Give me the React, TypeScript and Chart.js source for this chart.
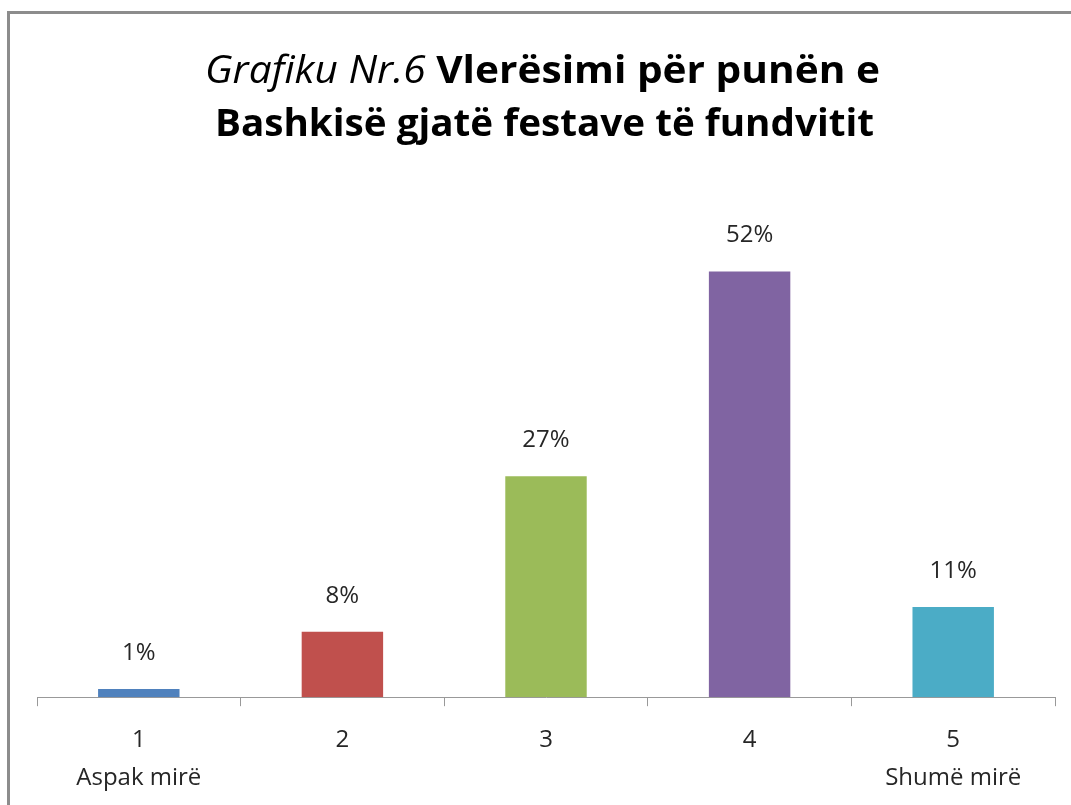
import React, { useEffect, useRef } from "react";
import { Chart, registerables } from "chart.js";

Chart.register(...registerables);

const categories: string[][] = [["1", "Aspak mirë"], ["2"], ["3"], ["4"], ["5", "Shumë mirë"]];
const values: number[] = [1, 8, 27, 52, 11];
const barColors: string[] = ["#4F81BD", "#C0504D", "#9BBB59", "#8064A2", "#4BACC6"];
const titleItalic = "Grafiku Nr.6";
const titleLine1Bold = "Vlerësimi për punën e";
const titleLine2 = "Bashkisë gjatë festave të fundvitit";
const yMax = 60;

const FONT = "'Open Sans', 'DejaVu Sans', sans-serif";

const framePlugin = {
  id: "frame",
  beforeDraw(chart: any) {
    const ctx = chart.ctx as CanvasRenderingContext2D;
    ctx.save();
    ctx.fillStyle = "#ffffff";
    ctx.fillRect(0, 0, chart.width, chart.height);
    ctx.strokeStyle = "#8c8c8c";
    ctx.lineWidth = 3;
    ctx.strokeRect(8.5, 12.5, chart.width + 20, chart.height + 20);
    ctx.restore();
  },
};

const titlePlugin = {
  id: "mixedTitle",
  afterDraw(chart: any) {
    const ctx = chart.ctx as CanvasRenderingContext2D;
    const size = 38;
    const italicFont = `italic 400 ${size}px ${FONT}`;
    const boldFont = `700 ${size}px ${FONT}`;
    ctx.save();
    ctx.fillStyle = "#000000";
    ctx.textBaseline = "alphabetic";
    ctx.textAlign = "left";
    // line 1
    ctx.font = italicFont;
    const wI = ctx.measureText(titleItalic + " ").width;
    ctx.font = boldFont;
    const wB = ctx.measureText(titleLine1Bold).width;
    const s1 = 675 / (wI + wB);
    ctx.save();
    ctx.translate(542.5 - ((wI + wB) * s1) / 2, 83);
    ctx.scale(s1, 1);
    ctx.font = italicFont;
    ctx.fillText(titleItalic + " ", 0, 0);
    ctx.font = boldFont;
    ctx.fillText(titleLine1Bold, wI, 0);
    ctx.restore();
    // line 2
    ctx.font = boldFont;
    const w2 = ctx.measureText(titleLine2).width;
    const s2 = 659 / w2;
    ctx.save();
    ctx.translate(544.5 - (w2 * s2) / 2, 136);
    ctx.scale(s2, 1);
    ctx.fillText(titleLine2, 0, 0);
    ctx.restore();
    ctx.restore();
  },
};

const labelPlugin = {
  id: "barLabels",
  afterDatasetsDraw(chart: any) {
    const ctx = chart.ctx as CanvasRenderingContext2D;
    const meta = chart.getDatasetMeta(0);
    ctx.save();
    ctx.font = `400 24px ${FONT}`;
    ctx.fillStyle = "#262626";
    ctx.textAlign = "center";
    ctx.textBaseline = "middle";
    meta.data.forEach((bar: any, i: number) => {
      ctx.fillText(`${values[i]}%`, bar.x, bar.y - 36);
    });
    ctx.restore();
  },
};

export default function App() {
  const ref = useRef<HTMLCanvasElement | null>(null);
  useEffect(() => {
    if (!ref.current) return;
    const chart = new Chart(ref.current, {
      type: "bar",
      data: {
        labels: categories,
        datasets: [
          {
            data: values,
            backgroundColor: barColors,
            borderWidth: 0,
            categoryPercentage: 1,
            barPercentage: 0.4,
          },
        ],
      },
      options: {
        animation: false,
        responsive: true,
        maintainAspectRatio: false,
        layout: { padding: { left: 37, right: 16, top: 206, bottom: -7 } },
        plugins: {
          legend: { display: false },
          title: { display: false },
          tooltip: { enabled: false },
        },
        scales: {
          x: {
            offset: true,
            grid: {
              display: true,
              offset: true,
              drawOnChartArea: false,
              drawTicks: true,
              tickLength: 9,
              color: "#999999",
              lineWidth: 1,
            },
            border: { display: true, color: "#999999", width: 1 },
            ticks: {
              color: "#262626",
              font: { family: FONT, size: 24, lineHeight: 1.58 },
              padding: 15,
              maxRotation: 0,
              autoSkip: false,
            },
          },
          y: {
            display: false,
            min: 0,
            max: yMax,
          },
        },
      },
      plugins: [framePlugin, titlePlugin, labelPlugin],
    });
    return () => chart.destroy();
  }, []);
  return (
    <div style={{ position: "absolute", left: 0, top: 0, width: 1071, height: 805, background: "#fff" }}>
      <canvas ref={ref} />
    </div>
  );
}
